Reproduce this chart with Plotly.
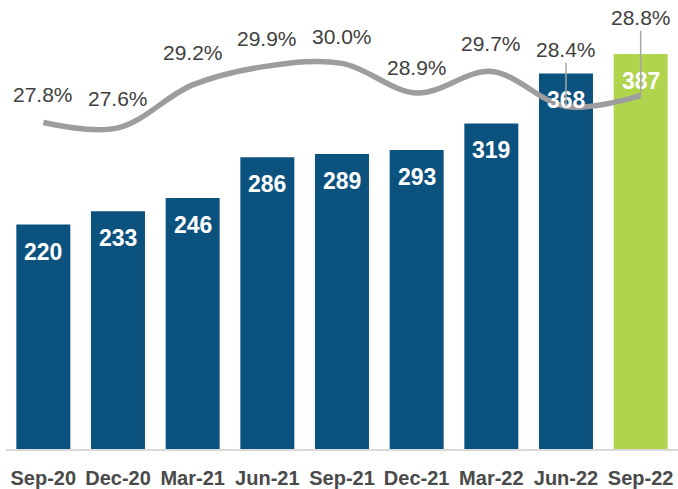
import plotly.graph_objects as go

categories = ["Sep-20", "Dec-20", "Mar-21", "Jun-21", "Sep-21", "Dec-21", "Mar-22", "Jun-22", "Sep-22"]
bar_values = [220, 233, 246, 286, 289, 293, 319, 368, 387]
pct_values = [27.8, 27.6, 29.2, 29.9, 30.0, 28.9, 29.7, 28.4, 28.8]

# styles
BLUE = "#0B527F"
GREEN = "#B0D44C"
LINE = "#9D9D9F"
TXT = "#404040"
FONT = "Liberation Sans, Arial, sans-serif"
bar_colors = [BLUE] * (len(categories) - 1) + [GREEN]
pct_label_offsets = [-28, -29, -32, -28, -27, -25, -28, -57, -78]
pct_leader = [False, False, False, False, False, False, False, True, True]

fig = go.Figure()
fig.add_trace(go.Bar(
    x=categories, y=bar_values, marker=dict(color=bar_colors, line=dict(width=0)),
    hoverinfo="skip", showlegend=False,
))
fig.add_trace(go.Scatter(
    x=categories, y=pct_values, yaxis="y2", mode="lines",
    line=dict(color=LINE, width=5.5, shape="spline", smoothing=1.0),
    hoverinfo="skip", showlegend=False,
))

annotations = []
for c, v in zip(categories, bar_values):
    annotations.append(dict(
        x=c, y=v, xref="x", yref="y", text=str(v), showarrow=False,
        yshift=-27, font=dict(family=FONT, size=23, color="white", weight="bold"),
    ))
for c, v, off, lead in zip(categories, pct_values, pct_label_offsets, pct_leader):
    annotations.append(dict(
        x=c, y=v, xref="x", yref="y2", text=f"{v:.1f}%",
        showarrow=True, arrowhead=0, ax=0, ay=off, standoff=0,
        arrowwidth=1.5, arrowcolor="#A6A6A6" if lead else "rgba(0,0,0,0)",
        font=dict(family=FONT, size=21, color=TXT),
    ))

fig.update_layout(
    width=678, height=489,
    margin=dict(l=6, r=0, t=0, b=38),
    paper_bgcolor="white", plot_bgcolor="white",
    bargap=0.277,
    xaxis=dict(
        type="category", range=[-0.5, 8.5], showgrid=False,
        showline=True, linecolor="#D9D9D9", linewidth=2,
        ticks="outside", ticklen=10, tickcolor="rgba(0,0,0,0)",
        tickfont=dict(family=FONT, size=20, color="#4A4A4A", weight="bold"),
    ),
    yaxis=dict(range=[0, 440], visible=False, showgrid=False),
    yaxis2=dict(range=[15.65, 32.36], overlaying="y", side="right",
                visible=False, showgrid=False),
    annotations=annotations,
)

fig.write_html("out.html")
